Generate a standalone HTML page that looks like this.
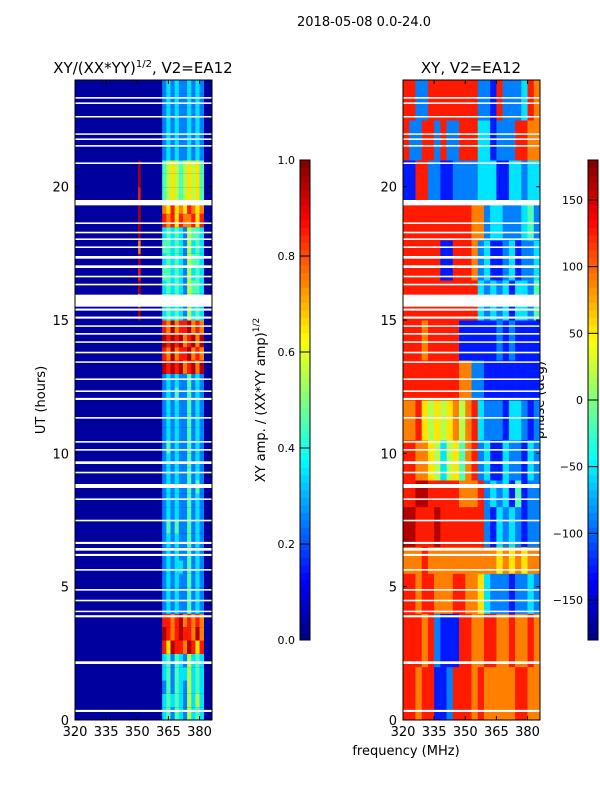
<!DOCTYPE html>
<html><head><meta charset="utf-8"><style>
body{margin:0;background:#fff;font-family:"Liberation Sans","DejaVu Sans",sans-serif;}
svg text{font-family:"DejaVu Sans","Liberation Sans",sans-serif;fill:#000;}
</style></head><body>
<svg id="chart" width="600" height="800" viewBox="0 0 600 800" xmlns="http://www.w3.org/2000/svg">
<text x="364" y="26" font-size="13" text-anchor="middle">2018-05-08 0.0-24.0</text>
<text x="143" y="73" font-size="15" text-anchor="middle">XY/(XX*YY)<tspan dy="-6" font-size="10">1/2</tspan><tspan dy="6">, V2=EA12</tspan></text>
<text x="471" y="73" font-size="15" text-anchor="middle">XY, V2=EA12</text>
<text transform="translate(45,400) rotate(-90)" font-size="13" text-anchor="middle">UT (hours)</text>
<text x="406" y="755" font-size="13" text-anchor="middle">frequency (MHz)</text>
<text transform="translate(265,400) rotate(-90)" font-size="13" text-anchor="middle">XY amp. / (XX*YY amp)<tspan dy="-6" font-size="9">1/2</tspan></text>
<text transform="translate(544,400) rotate(-90)" font-size="13" text-anchor="middle">phase (deg)</text>
<g id="layer"></g>
</svg>
<script>
// ---- data ----
const hoursRange = [0, 24];
const freqRange = [320, 386];
const yTicks = [0, 5, 10, 15, 20];
const xTicks = [320, 335, 350, 365, 380];
const ampTicks = ["0.0","0.2","0.4","0.6","0.8","1.0"];
const phaseTicks = [-150,-100,-50,0,50,100,150];
const rowHours = 0.5;
// left panel: band 362-382 MHz in 2 MHz columns, digits = amp*10
const bandStart = 362, bandStep = 2;
const bandAmp = [
"3424325343","3434325353","2424325343","3424335343","3424325343",
"8698879868","9878988797","8878978787",
"2323224232","2323224232","2323224232","2323324232","2323224232","2323224232",
"2424224232","2323224232","2323224232","2323224242","2323224232","2323224232",
"2423224232","2323224232","2323224232","2323224232","2324224232","2323224232",
"9898978979","8797889787","9898978979","8797889787",
"3434325343","4434325443","3434325443","4434325343","3434325443","4434325343","3434325443",
"8786877868","7686768767",
"4565456564","4565456564","4565456564",
"2323223232","2323223232","2323223232","2323223232","2323223232","2323223232"];
const lineFreq = 351;
const lineAmp = "000000000000000000000000000000979897999899000000";
const bgAmp = 0;
// right panel: phase, 3 MHz columns from 320, digit d -> phase -180+(d+0.5)*36
const phaseStep = 3;
const phaseRows = [
"8878811288878777778877","8878811288878777778877","8878811288878777778877","8878811288878777778877",
"8887821118877887787787","8887821118877887787787","8887821118877887787787","8887821118877887787787",
"8878877788776322212232","8878877788776322212232","8878877788776322212232",
"7778777777777776767677","7778777777777776767677",
"9988898888888213232122","9988898888888213232122","9988898888888213232122",
"8899888887778232314122","8899888887778232314122",
"8877653564782311322132","8877653564782311322132","8877653564782311322132",
"7786565675783222133212","7786565675783222133212","7786565675783222133212",
"8888888887722111111111","8888888887722111111111","8888888887722111111111",
"8887888881111112121111","8887888881111112121111","8887888881111112121111",
"8888888888883232313324","8888888888883232313324","8888888888883232313324",
"8888881188872311231223","8888881188872311231223","8888881188872311231223",
"8888888888877233222342","8888888888877233222342","8888888888877233222342",
"1188221122223331133233","1188221122223331133233","1188221122223331133233",
"8228828228883312228877","8228828228883312228877","8228828228883312228877",
"8822888888882218222387","8822888888882218222387","8822888888882218222387"];
const gapStart = [0.3,2.1,3.85,4.05,4.45,4.85,5.6,6.15,6.35,6.6,7.45,8.25,8.7,9.25,9.6,10.1,10.4,11.3,12.0,12.3,12.75,13.4,13.75,14.15,14.45,14.75,15.05,15.35,15.5,16.3,16.6,16.95,17.3,17.7,18.0,18.25,18.6,19.3,20.85,21.5,21.75,21.95,22.6,23.1,23.3];
const gapLen = [0.08,0.1,0.08,0.05,0.06,0.06,0.06,0.08,0.1,0.08,0.06,0.06,0.15,0.06,0.1,0.06,0.06,0.06,0.08,0.06,0.06,0.05,0.06,0.05,0.06,0.05,0.08,0.08,0.45,0.06,0.06,0.1,0.1,0.06,0.06,0.06,0.06,0.2,0.06,0.06,0.06,0.05,0.05,0.06,0.06];

// ---- layout ----
const NS = "http://www.w3.org/2000/svg";
const layer = document.getElementById('layer');
const panels = [{x0:75,name:'amp'},{x0:403,name:'phase'}];
const PW = 137, PT = 80, PB = 720;
function yScale(h){return PB - (h-hoursRange[0])/(hoursRange[1]-hoursRange[0])*(PB-PT);}
function xScale(p,f){return p.x0 + (f-freqRange[0])/(freqRange[1]-freqRange[0])*PW;}
function jet(v){v=Math.max(0,Math.min(1,v));
  const r=Math.max(0,Math.min(1,1.5-Math.abs(4*v-3))),g=Math.max(0,Math.min(1,1.5-Math.abs(4*v-2))),b=Math.max(0,Math.min(1,1.5-Math.abs(4*v-1)));
  return `rgb(${Math.round(r*255)},${Math.round(g*255)},${Math.round(b*255)})`;}
function el(tag,attrs,parent){const e=document.createElementNS(NS,tag);for(const k in attrs)e.setAttribute(k,attrs[k]);(parent||layer).appendChild(e);return e;}

// left panel cells
const pA = panels[0];
const gA = el('g',{});


const nRows = bandAmp.length;
for(let r=0;r<nRows;r++){
  const y1=yScale(r*rowHours), y0=yScale((r+1)*rowHours);
  const bg=el('rect',{x:xScale(pA,freqRange[0]),y:y0,width:xScale(pA,freqRange[1])-xScale(pA,freqRange[0]),height:y1-y0+0.5,fill:jet(0.03+bgAmp/10)},gA);
  
  
  const s=bandAmp[r];
  for(let c=0;c<s.length;c++){
    const f=bandStart+c*bandStep;
    const cell=el('rect',{x:xScale(pA,f),y:y0,width:xScale(pA,f+bandStep)-xScale(pA,f)+0.3,height:y1-y0+0.5,fill:jet(+s[c]/10+0.05)},gA);
    
    
  }
  const lv=+lineAmp[r];
  if(lv>0){
    const ln=el('rect',{x:xScale(pA,lineFreq-0.6),y:y0,width:xScale(pA,lineFreq+0.6)-xScale(pA,lineFreq-0.6),height:y1-y0+0.5,fill:jet(lv/10+0.05)},gA);
    
    
  }
}
// right panel cells
const pP = panels[1];
const gP = el('g',{});


for(let r=0;r<phaseRows.length;r++){
  const y1=yScale(r*rowHours), y0=yScale((r+1)*rowHours);
  const s=phaseRows[r];
  for(let c=0;c<s.length;c++){
    const f=freqRange[0]+c*phaseStep;
    const ph=-180+(+s[c]+0.5)*36;
    const cell=el('rect',{x:xScale(pP,f),y:y0,width:Math.min(xScale(pP,f+phaseStep),pP.x0+PW)-xScale(pP,f)+0.3,height:y1-y0+0.5,fill:jet((ph+180)/360)},gP);
    
    
  }
}
// flagged gaps
for(const p of panels){
  for(let i=0;i<gapStart.length;i++){
    const ya=yScale(gapStart[i]+gapLen[i]), yb=yScale(gapStart[i]);
    const g=el('rect',{x:p.x0,y:ya,width:PW,height:Math.max(1.5,yb-ya),fill:'#fff'});
    
    
  }
}
// axes frames & ticks
for(const p of panels){
  const fr=el('rect',{x:p.x0,y:PT,width:PW,height:PB-PT,fill:'none',stroke:'#000','stroke-width':1});
  
  
  for(const t of yTicks){
    const y=yScale(t);
    el('line',{x1:p.x0,x2:p.x0+4,y1:y,y2:y,stroke:'#000'});
    el('line',{x1:p.x0+PW,x2:p.x0+PW-4,y1:y,y2:y,stroke:'#000'});
    const tx=el('text',{x:p.x0-6,y:y+5,'font-size':13,'text-anchor':'end'});
    tx.textContent=t;
    
    
  }
  for(const t of xTicks){
    const x=xScale(p,t);
    el('line',{x1:x,x2:x,y1:PB,y2:PB-4,stroke:'#000'});
    el('line',{x1:x,x2:x,y1:PT,y2:PT+4,stroke:'#000'});
    const tx=el('text',{x:x,y:PB+16,'font-size':13,'text-anchor':'middle'});
    tx.textContent=t;
    
    
  }
}
// colorbars
function colorbar(x,name,ticks,tmin,tmax,labels){
  const g=el('g',{});
  
  
  const n=64, top=160, bot=640;
  for(let i=0;i<n;i++){
    const h=(bot-top)/n;
    el('rect',{x:x,y:bot-(i+1)*h,width:10,height:h+0.4,fill:jet((i+0.5)/n)},g);
  }
  el('rect',{x:x,y:top,width:10,height:bot-top,fill:'none',stroke:'#000'},g);
  ticks.forEach((t,i)=>{
    const y=bot-(t-tmin)/(tmax-tmin)*(bot-top);
    el('line',{x1:x,x2:x+10,y1:y,y2:y,stroke:'#000'},g);
    const tx=el('text',{x:x-5,y:y+4,'font-size':11,'text-anchor':'end'},g);
    tx.textContent=labels[i];
    
    
  });
}
colorbar(300,'amplitude-colorbar',ampTicks.map(Number),0,1,ampTicks);
colorbar(588,'phase-colorbar',phaseTicks,-180,180,phaseTicks.map(v=>v<0?'\u2212'+(-v):String(v)));
</script>
</body></html>
